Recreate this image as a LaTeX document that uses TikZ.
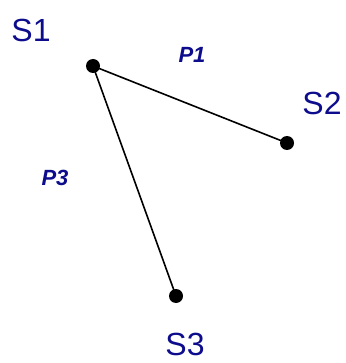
\documentclass[tikz,border=0pt]{standalone}
\usepackage{fontspec}
\setmainfont{Liberation Sans}
\usepackage{xcolor}
\usepackage{tikz}
\usetikzlibrary{positioning}
\definecolor{labelblue}{RGB}{12,12,140}

\begin{document}
\begin{tikzpicture}[
    x=1pt, y=-1pt,
    sitedot/.style={circle, fill=black, inner sep=0pt, minimum size=14pt},
    sitelabel/.style={text=labelblue, inner sep=0pt, font=\fontsize{32}{32}\selectfont},
    pathlabel/.style={text=labelblue, inner sep=0pt, font=\bfseries\itshape\fontsize{22}{22}\selectfont},
    link/.style={line width=1.6pt}
  ]
    \useasboundingbox (0,0) rectangle (345,363);
    \node[sitedot] (s1) at (93,66) {};
    \node[sitedot] (s2) at (287,143) {};
    \node[sitedot] (s3) at (176,296) {};
    \node[sitelabel] (l1) at (31,30) {S1};
    \node[sitelabel] (l2) at (322,103) {S2};
    \node[sitelabel] (l3) at (185,344) {S3};
    \node[pathlabel] (p1) at (192,55) {P1};
    \node[pathlabel] (p3) at (55,178) {P3};
    \draw[link] (s1.center) -- (s2.center);
    \draw[link] (s1.center) -- (s3.center);
  \end{tikzpicture}
\end{document}
